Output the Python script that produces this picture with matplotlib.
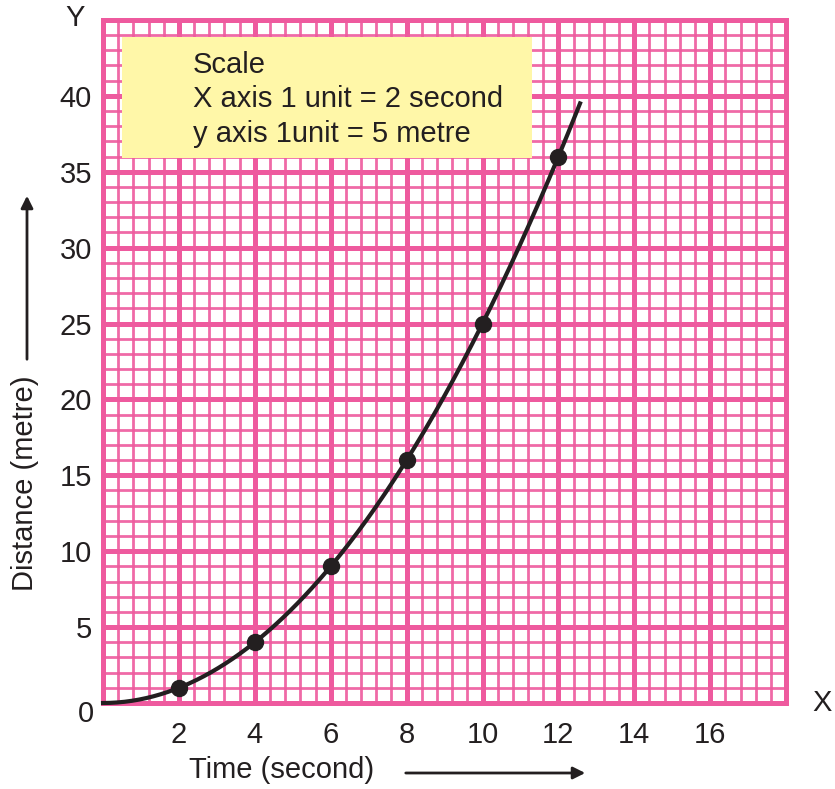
import numpy as np
import matplotlib.pyplot as plt
from matplotlib.patches import Rectangle
from matplotlib.ticker import MultipleLocator

plt.rcParams['font.family'] = ['Liberation Sans', 'DejaVu Sans']

# Data
time_s = [2, 4, 6, 8, 10, 12]
distance_m = [1, 4, 9, 16, 25, 36]
x_ticks = [2, 4, 6, 8, 10, 12, 14, 16]
y_ticks = [5, 10, 15, 20, 25, 30, 35, 40]
scale_lines = ['Scale', 'X axis 1 unit = 2 second', 'y axis 1unit = 5 metre']

pink = '#EE5A9E'
ink = '#231F20'
fs = 21

fig = plt.figure(figsize=(8.35, 7.89), dpi=100)
ax = fig.add_axes([0.1234, 0.1090, 0.8180, 0.8657])

ax.set_xlim(0, 18)
ax.set_ylim(0, 45)

# graph paper grid
ax.xaxis.set_major_locator(MultipleLocator(2))
ax.xaxis.set_minor_locator(MultipleLocator(0.4))
ax.yaxis.set_major_locator(MultipleLocator(5))
ax.yaxis.set_minor_locator(MultipleLocator(1))
ax.set_axisbelow(True)
ax.grid(which='major', color=pink, linewidth=3.6)
ax.grid(which='minor', color=pink, linewidth=2.0, alpha=0.9)
for s in ax.spines.values():
    s.set_color(pink)
    s.set_linewidth(3.6)

ax.set_xticks(x_ticks)
ax.set_xticklabels([str(v) for v in x_ticks])
ax.set_yticks(y_ticks)
ax.set_yticklabels([str(v) for v in y_ticks])
ax.tick_params(which='both', length=0, labelsize=fs, labelcolor=ink)
ax.tick_params(axis='x', pad=13)
ax.tick_params(axis='y', pad=8)
ax.text(-0.45, -0.75, '0', fontsize=fs, color=ink, ha='center', va='center', clip_on=False)

# smooth curve through the measured points
t_all = [0] + time_s
d_all = [0] + distance_m
coef = np.polyfit(t_all, d_all, 2)
tt = np.linspace(0, 12.57, 200)
ax.plot(tt, np.polyval(coef, tt), color=ink, linewidth=3.0, zorder=3, clip_on=False)
ax.plot(time_s, distance_m, 'o', color=ink, markersize=11.5, zorder=4)

# scale box
ax.add_patch(Rectangle((0.5, 35.9), 10.8, 8.0, facecolor='#FFF7A8', edgecolor='none', zorder=2))
for i, line in enumerate(scale_lines):
    ax.text(2.37, 42.05 - i * 2.28, line, fontsize=fs, color=ink, va='center', ha='left', zorder=3)

# axis letters and labels
fig.text(75 / 835, 1 - 18 / 789, 'Y', fontsize=fs, color=ink, ha='center', va='center')
fig.text(822 / 835, 1 - 703 / 789, 'X', fontsize=fs, color=ink, ha='center', va='center')
fig.text(282 / 835, 1 - 770 / 789, 'Time (second)', fontsize=fs, color=ink, ha='center', va='center')
fig.text(25 / 835, 1 - 483 / 789, 'Distance (metre)', fontsize=fs, color=ink,
         ha='center', va='center', rotation=90)

# direction arrows next to the axis labels
ax.annotate('', xy=(588 / 835, 1 - 773 / 789), xytext=(403 / 835, 1 - 773 / 789),
            xycoords='figure fraction', textcoords='figure fraction',
            arrowprops=dict(arrowstyle='-|>', color=ink, lw=2, mutation_scale=18))
ax.annotate('', xy=(27 / 835, 1 - 193 / 789), xytext=(27 / 835, 1 - 362 / 789),
            xycoords='figure fraction', textcoords='figure fraction',
            arrowprops=dict(arrowstyle='-|>', color=ink, lw=2, mutation_scale=18))

fig.savefig('out.png', dpi=100)
